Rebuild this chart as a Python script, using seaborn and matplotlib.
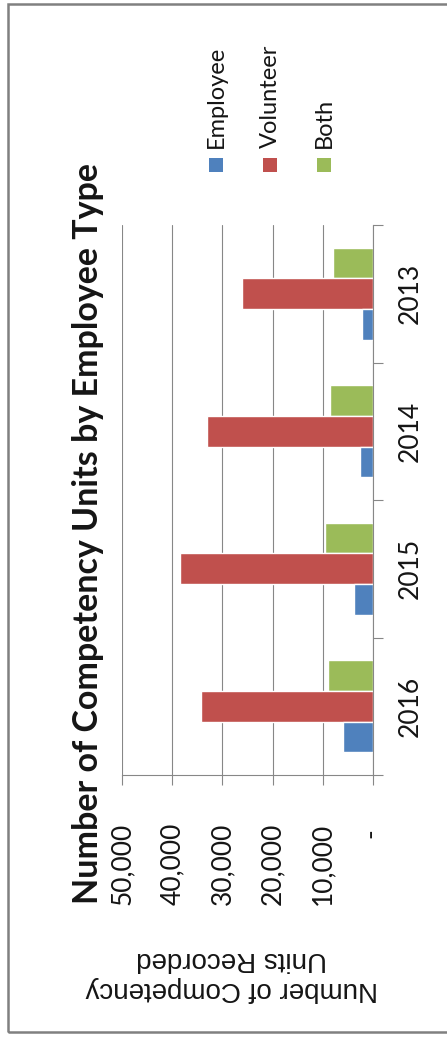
import matplotlib
matplotlib.use("Agg")
import matplotlib.pyplot as plt
from matplotlib.patches import Rectangle
import pandas as pd
import seaborn as sns

# ---- chart data -------------------------------------------------------------
years = ["2013", "2014", "2015", "2016"]
employee = [2100, 2500, 3700, 6000]
volunteer = [26100, 33100, 38500, 34200]
both = [8000, 8600, 9500, 9000]
series_names = ["Employee", "Volunteer", "Both"]
value_ticks = [0, 10000, 20000, 30000, 40000, 50000]
value_tick_labels = ["-\u00a0", "10,000", "20,000", "30,000", "40,000", "50,000"]
title = "Number of Competency Units by Employee Type"
value_axis_title = "Number of Competency\nUnits Recorded"

colors = {"Employee": "#4F81BD", "Volunteer": "#C0504D", "Both": "#9BBB59"}

df = pd.DataFrame({
    "Year": years * 3,
    "Type": [s for s in series_names for _ in years],
    "Units": employee + volunteer + both,
})

# ---- style ------------------------------------------------------------------
sns.set_style("white")
plt.rcParams["font.family"] = ["Lato", "DejaVu Sans"]
axis_grey = "#878787"
text_col = "#151515"

W, H = 447, 1037
fig = plt.figure(figsize=(W / 100, H / 100), dpi=100)
ax = fig.add_axes([122 / W, 1 - 775 / H, 251 / W, 550 / H])

# The chart is laid out sideways: bars grow leftwards from the zero line
sns.barplot(
    data=df, x="Units", y="Year", hue="Type",
    order=years, hue_order=["Both", "Volunteer", "Employee"],
    palette=colors, orient="h", width=0.67, saturation=1,
    errorbar=None, legend=False, ax=ax,
)

ax.set_xlim(50000, 0)
ax.set_ylim(3.5, -0.5)
ax.set_axisbelow(True)
ax.xaxis.grid(True, color=axis_grey, lw=0.8)
ax.yaxis.grid(False)

for side in ("top", "left"):
    ax.spines[side].set_visible(False)
for side in ("bottom", "right"):
    ax.spines[side].set_color(axis_grey)
    ax.spines[side].set_linewidth(0.8)

# value axis
ax.set_xticks(value_ticks)
ax.set_xticklabels(value_tick_labels, rotation=90, fontsize=19, color=text_col)
ax.tick_params(axis="x", which="major", bottom=True, length=7.2, width=0.8,
               color=axis_grey, pad=27, direction="out")

# category axis on the right, tick marks between categories
ax.yaxis.tick_right()
ax.set_yticks(range(len(years)))
ax.set_yticklabels(years, rotation=90, fontsize=19, color=text_col,
                   va="center", ha="left")
ax.set_yticks([i - 0.5 for i in range(len(years) + 1)], minor=True)
ax.tick_params(axis="y", which="major", right=True, left=False, length=0, pad=17.5)
ax.tick_params(axis="y", which="minor", right=True, left=False, length=7.2,
               width=0.8, color=axis_grey, direction="out")
ax.set_ylabel("")

ax.set_xlabel(value_axis_title, fontsize=20, family=["Liberation Sans", "DejaVu Sans"],
              rotation=180, va="center", ha="center", color=text_col)
ax.xaxis.set_label_coords((232 - 122) / 251, (775 - 974) / 550)

# title
fig.text(98 / W, 1 - 534 / H, title, rotation=90, rotation_mode="anchor",
         ha="center", va="baseline", fontsize=24.5, fontweight="bold", color=text_col)

# legend: one column per series, text running upwards
for i, name in enumerate(series_names):
    x_right = 223 + 54 * i
    fig.add_artist(Rectangle(((x_right - 14) / W, 1 - 172 / H), 14 / W, 14 / H,
                             transform=fig.transFigure, facecolor=colors[name],
                             edgecolor="none"))
    fig.text(x_right / W, 1 - 148 / H, name, rotation=90, rotation_mode="anchor",
             ha="left", va="baseline", fontsize=17, color=text_col)

# outer chart frame
fig.add_artist(Rectangle((8 / W, 1 - 1032 / H), 450 / W, 1028 / H,
                         transform=fig.transFigure, facecolor="none",
                         edgecolor="#808080", lw=1.8))

fig.savefig("out.png", dpi=100)
